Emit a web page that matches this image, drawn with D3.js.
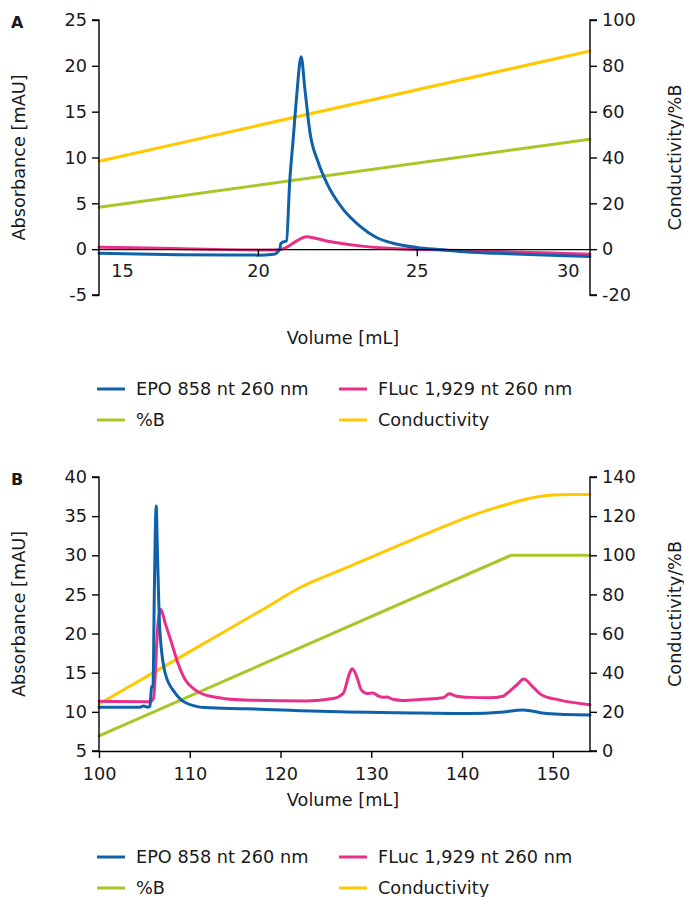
<!DOCTYPE html>
<html>
<head>
<meta charset="utf-8">
<script src="https://cdn.jsdelivr.net/npm/d3@7"></script>
<style>
  body { margin: 0; background: #fff; }
  text { font-family: "DejaVu Sans", Verdana, sans-serif; fill: #1a1a1a; }
</style>
</head>
<body>
<svg id="chart" width="684" height="897"></svg>
<script>
// ---- data: panel A ----
var aEpoVol = [15, 17.5, 20, 20.5, 20.69, 20.72, 20.75, 20.9, 21.0, 21.11, 21.22, 21.36, 21.48, 21.64, 21.9, 22.16, 22.68, 23.2, 23.73, 24.25, 25.0, 25.8, 26.35, 27.5, 29, 30.45];
var aEpo = [-0.45, -0.6, -0.65, -0.55, 0, 0.6, 0.7, 0.9, 7.3, 12.0, 16.7, 21.0, 17.4, 12.7, 9.45, 7.27, 4.36, 2.54, 1.27, 0.65, 0.18, -0.07, -0.25, -0.45, -0.65, -0.8];
var aFlucVol = [15, 17, 19, 20.5, 20.8, 20.9, 21.22, 21.53, 21.64, 22.16, 23.2, 24.25, 25.3, 26.5, 28, 30.45];
var aFluc = [0.2, 0.1, -0.05, -0.1, 0.05, 0.2, 0.9, 1.35, 1.3, 0.9, 0.36, 0.07, -0.05, -0.15, -0.3, -0.55];
var aGradVol = [15, 30.45];
var aPctB = [18.3, 48];
var aCond = [38.4, 86.5];

// ---- data: panel B ----
var bEpoVol = [100, 104.5, 104.9, 105.4, 105.6, 105.8, 105.95, 106.1, 106.3, 106.45, 106.7, 107.3, 108.4, 109.5, 111.7, 116.1, 121, 126.5, 133, 140.9, 144.2, 146.7, 149.3, 154.1];
var bEpo = [10.6, 10.6, 10.75, 10.6, 10.7, 13.2, 13.3, 25.6, 36.3, 29.8, 20.5, 14.9, 12.4, 11.2, 10.55, 10.4, 10.2, 10.0, 9.9, 9.8, 9.95, 10.25, 9.8, 9.6];
var bFlucVol = [100, 105.6, 106.0, 106.5, 106.8, 107.3, 108.0, 108.7, 109.5, 110.6, 112.4, 116.1, 122.9, 125.8, 126.9, 127.6, 127.9, 128.4, 128.9, 129.5, 130.2, 130.8, 131.3, 131.7, 132.4, 133.5, 135.7, 137.9, 138.6, 139.4, 140.9, 143, 144.5, 145, 146, 146.8, 147.8, 148.8, 150.8, 154.1];
var bFluc = [11.35, 11.3, 11.7, 21.3, 23.1, 21.3, 18.8, 16.2, 14.1, 12.8, 11.95, 11.5, 11.4, 11.7, 12.35, 14.9, 15.5, 14.5, 12.8, 12.35, 12.4, 12.0, 11.85, 11.9, 11.6, 11.45, 11.6, 11.8, 12.3, 12.0, 11.85, 11.8, 12.0, 12.4, 13.4, 14.2, 13.2, 12.15, 11.5, 10.9];
var bPctBVol = [100, 145.4, 154.1];
var bPctB = [7.7, 100, 100];
var bCondVol = [100, 110, 118, 122.5, 124.3, 127, 130, 135, 139, 141, 143, 145, 147, 148.5, 150, 152, 154.1];
var bCond = [24, 50.8, 72.2, 84.3, 88.0, 93.2, 99.1, 108.9, 116.6, 120.1, 123.3, 126.1, 128.6, 130.0, 130.8, 131, 131];

// ---- ticks / legend ----
var aXTicks = [15, 20, 25, 30];
var aLeftTicks = [-5, 0, 5, 10, 15, 20, 25];
var aRightTicks = [-20, 0, 20, 40, 60, 80, 100];
var bXTicks = [100, 110, 120, 130, 140, 150];
var bLeftTicks = [5, 10, 15, 20, 25, 30, 35, 40];
var bRightTicks = [0, 20, 40, 60, 80, 100, 120, 140];
var seriesNames = ['EPO 858 nt 260 nm', 'FLuc 1,929 nt 260 nm', '%B', 'Conductivity'];
var seriesColors = ['#0f62aa', '#e8308a', '#a5c828', '#ffc800'];

var svg = d3.select('#chart');
var left = 99, right = 590;
var fontSize = '17.7px';
var plain = function (d) { return String(d); };

function drawPanel(p) {
  var g = svg.append('g');
  var x = d3.scaleLinear().domain(p.xDomain).range([left, right]);
  var yL = d3.scaleLinear().domain(p.leftDomain).range([p.bottom, p.top]);
  var yR = d3.scaleLinear().domain(p.rightDomain).range([p.bottom, p.top]);

  function addLine(xs, ys, scale, color, curve) {
    var line = d3.line().x(function (d) { return x(d[0]); }).y(function (d) { return scale(d[1]); }).curve(curve);
    g.append('path').datum(d3.zip(xs, ys)).attr('d', line)
      .attr('fill', 'none').attr('stroke', color).attr('stroke-width', 3)
      .attr('stroke-linejoin', 'round').attr('stroke-linecap', 'round');
  }
  addLine(p.condVol, p.cond, yR, seriesColors[3], d3.curveMonotoneX);
  addLine(p.pctVol, p.pct, yR, seriesColors[2], d3.curveLinear);
  addLine(p.flucVol, p.fluc, yL, seriesColors[1], d3.curveMonotoneX);
  addLine(p.epoVol, p.epo, yL, seriesColors[0], d3.curveMonotoneX);

  var la = g.append('g').attr('transform', 'translate(' + left + ',0)')
    .call(d3.axisLeft(yL).tickValues(p.leftTicks).tickSize(7).tickPadding(5).tickFormat(plain));
  var ra = g.append('g').attr('transform', 'translate(' + right + ',0)')
    .call(d3.axisRight(yR).tickValues(p.rightTicks).tickSize(7).tickPadding(5).tickFormat(plain));
  var xa = g.append('g').attr('transform', 'translate(0,' + yL(p.xAxisAt) + ')')
    .call(d3.axisBottom(x).tickValues(p.xTicks).tickSize(7).tickSizeOuter(0).tickFormat(plain));
  xa.selectAll('text').attr('dy', null).attr('y', p.xLabelY);
  if (p.xLabelShift) {
    xa.selectAll('.tick').each(function (d) {
      if (p.xLabelShift[d] !== undefined) {
        d3.select(this).select('line').remove();
        d3.select(this).select('text').attr('dx', p.xLabelShift[d]);
      }
    });
  }
  [la, ra, xa].forEach(function (a) {
    a.select('.domain').attr('stroke', '#000').attr('stroke-width', 1.4);
    a.selectAll('.tick line').attr('stroke', '#000').attr('stroke-width', 1.4);
    a.selectAll('text').style('font-size', fontSize).attr('fill', '#1a1a1a')
      .style('font-family', '"DejaVu Sans", Verdana, sans-serif');
  });
  la.select('.domain').attr('d', 'M-7,' + p.top + 'H0V' + p.bottom + 'H-7');
  ra.select('.domain').attr('d', 'M7,' + p.top + 'H0V' + p.bottom + 'H7');

  var mid = (p.top + p.bottom) / 2;
  g.append('text').attr('transform', 'translate(25,' + mid + ') rotate(-90)')
    .attr('text-anchor', 'middle').style('font-size', fontSize).text('Absorbance [mAU]');
  g.append('text').attr('transform', 'translate(681,' + mid + ') rotate(-90)')
    .attr('text-anchor', 'middle').style('font-size', fontSize).text('Conductivity/%B');
  g.append('text').attr('x', 343).attr('y', p.titleY)
    .attr('text-anchor', 'middle').style('font-size', fontSize).text('Volume [mL]');
  g.append('text').attr('x', 11).attr('y', p.top + 8)
    .style('font-size', '16px').style('font-weight', 'bold').text(p.label);

  var lg = g.append('g');
  seriesNames.forEach(function (name, i) {
    var lx = i % 2 === 0 ? 97 : 339;
    var ly = p.legendY + Math.floor(i / 2) * 31;
    lg.append('line').attr('x1', lx).attr('x2', lx + 28).attr('y1', ly).attr('y2', ly)
      .attr('stroke', seriesColors[i]).attr('stroke-width', 3);
    lg.append('text').attr('x', lx + 39).attr('y', ly + 6).style('font-size', fontSize).text(name);
  });
}

drawPanel({
  label: 'A', top: 20, bottom: 295,
  xDomain: [15, 30.45], leftDomain: [-5, 25], rightDomain: [-20, 100],
  xAxisAt: 0, xTicks: aXTicks, leftTicks: aLeftTicks, rightTicks: aRightTicks,
  xLabelY: 28, xLabelShift: { 15: 23, 30: -8 },
  titleY: 344, legendY: 389,
  epoVol: aEpoVol, epo: aEpo, flucVol: aFlucVol, fluc: aFluc,
  pctVol: aGradVol, pct: aPctB, condVol: aGradVol, cond: aCond
});

drawPanel({
  label: 'B', top: 477, bottom: 751,
  xDomain: [100, 154.1], leftDomain: [5, 40], rightDomain: [0, 140],
  xAxisAt: 5, xTicks: bXTicks, leftTicks: bLeftTicks, rightTicks: bRightTicks,
  xLabelY: 29, xLabelShift: null,
  titleY: 806, legendY: 857,
  epoVol: bEpoVol, epo: bEpo, flucVol: bFlucVol, fluc: bFluc,
  pctVol: bPctBVol, pct: bPctB, condVol: bCondVol, cond: bCond
});
</script>
</body>
</html>
